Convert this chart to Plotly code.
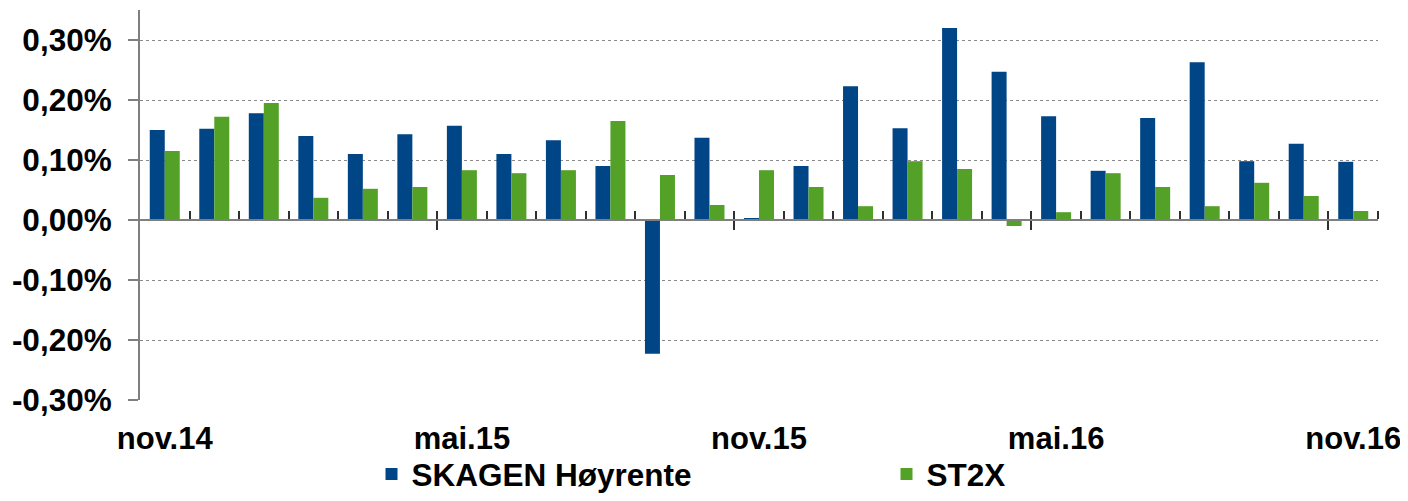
import plotly.graph_objects as go

months = ["nov.14", "des.14", "jan.15", "feb.15", "mar.15", "apr.15", "mai.15",
          "jun.15", "jul.15", "aug.15", "sep.15", "okt.15", "nov.15", "des.15",
          "jan.16", "feb.16", "mar.16", "apr.16", "mai.16", "jun.16", "jul.16",
          "aug.16", "sep.16", "okt.16", "nov.16"]
skagen = [0.150, 0.152, 0.178, 0.140, 0.110, 0.143, 0.157, 0.110, 0.133, 0.090,
          -0.223, 0.137, 0.003, 0.090, 0.223, 0.153, 0.320, 0.247, 0.173, 0.082,
          0.170, 0.263, 0.098, 0.127, 0.097]
st2x = [0.115, 0.172, 0.195, 0.037, 0.052, 0.055, 0.083, 0.078, 0.083, 0.165,
        0.075, 0.025, 0.083, 0.055, 0.023, 0.098, 0.085, -0.010, 0.013, 0.078,
        0.055, 0.023, 0.062, 0.040, 0.015]
y_ticks = [-0.3, -0.2, -0.1, 0.0, 0.1, 0.2, 0.3]
y_ticktext = ["-0,30%", "-0,20%", "-0,10%", "0,00%", "0,10%", "0,20%", "0,30%"]
series_names = ["SKAGEN Høyrente", "ST2X"]

idx = list(range(len(months)))
boundaries = [i + 0.5 for i in idx]
major_bounds = [i + 0.5 for i in idx if (i + 1) % 6 == 0 and i + 1 < len(months)]
label_pos = idx[::6]
label_text = months[::6]

y_range = [-0.30, 0.35]
zero_pos = (0 - y_range[0]) / (y_range[1] - y_range[0])
x_range = [-0.5, len(months) - 0.5]
BAR_W = 0.303

BLUE = "#004586"
GREEN = "#53A127"
FONT = "Liberation Sans, Arial, sans-serif"
bold_x = dict(family=FONT, size=31, color="black", weight="bold")
bold_y = dict(family=FONT, size=31.5, color="black", weight="bold")
bold_l = dict(family=FONT, size=31.5, color="black", weight="bold")

fig = go.Figure()
fig.add_trace(go.Bar(x=idx, y=skagen, name=series_names[0], marker_color=BLUE,
                     marker_line_width=0, width=BAR_W, offset=-BAR_W,
                     xaxis="x", yaxis="y"))
fig.add_trace(go.Bar(x=idx, y=st2x, name=series_names[1], marker_color=GREEN,
                     marker_line_width=0, width=BAR_W, offset=0,
                     xaxis="x2", yaxis="y"))

fig.update_layout(
    width=1400, height=493,
    margin=dict(l=132, r=30, t=2, b=101, autoexpand=False),
    paper_bgcolor="white", plot_bgcolor="white",
    barmode="overlay",
    font=bold_x,
    showlegend=True,
    legend=dict(orientation="h", x=0.187, xanchor="left", y=-0.259,
                yanchor="bottom", font=bold_l, entrywidth=470,
                entrywidthmode="pixels", bgcolor="rgba(0,0,0,0)"),
    xaxis=dict(range=x_range, anchor="y", side="bottom", automargin=False,
               showline=False, showgrid=False, zeroline=False,
               tickmode="array", tickvals=label_pos, ticktext=label_text,
               ticks="", ticklabelstandoff=17, tickfont=bold_x),
    xaxis2=dict(range=x_range, overlaying="x", matches="x", anchor="free",
                position=zero_pos, automargin=False,
                showline=True, linecolor="#7f7f7f", linewidth=2,
                showgrid=False, zeroline=False,
                tickmode="array", tickvals=major_bounds, ticks="outside",
                ticklen=9, tickwidth=2, tickcolor="#303030",
                minor=dict(tickmode="array", tickvals=boundaries, ticks="inside",
                           ticklen=8, tickwidth=2, tickcolor="#303030"),
                showticklabels=False),
    yaxis=dict(range=y_range, automargin=False,
               showline=True, linecolor="#7f7f7f", linewidth=2,
               zeroline=False, showgrid=True, gridcolor="#8a8a8a",
               griddash="dot", gridwidth=1,
               tickmode="array", tickvals=y_ticks, ticktext=y_ticktext,
               ticks="outside", ticklen=10, tickwidth=2, tickcolor="#7f7f7f",
               ticklabelstandoff=10, tickfont=bold_y),
)

fig.write_html("out.html")
